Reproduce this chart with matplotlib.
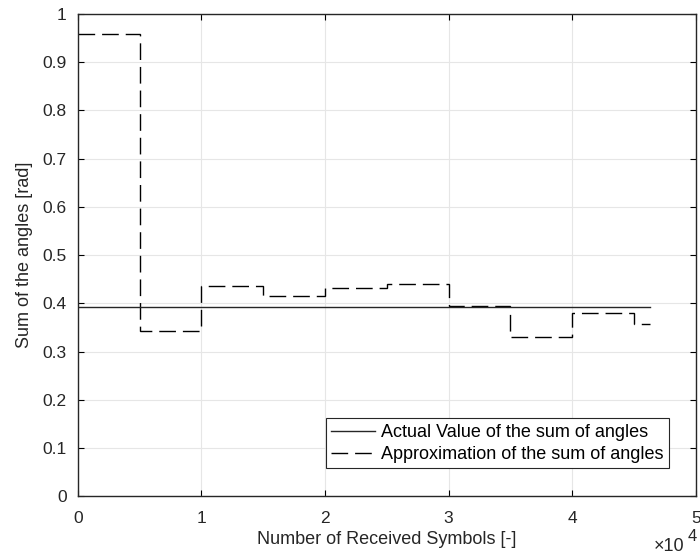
import numpy as np
import matplotlib
matplotlib.use('Agg')
import matplotlib.pyplot as plt
from matplotlib import rc

rc('font', **{'family': 'sans-serif', 'sans-serif': ['Liberation Sans', 'DejaVu Sans']})

# step edges (received symbols) and the estimated sum of angles per block
edges = [0, 5000, 10000, 15000, 20000, 25000, 30000, 35000, 40000, 45000, 46300]
approx = [0.958, 0.343, 0.436, 0.415, 0.431, 0.440, 0.394, 0.331, 0.380, 0.358]
actual_x = [0, 46300]
actual_y = [np.pi / 8, np.pi / 8]

fig = plt.figure(figsize=(7, 5.6), dpi=100)
ax = fig.add_axes([0.111, 0.114, 0.883, 0.861])

ax.plot(actual_x, actual_y, color='#262626', lw=1.0, label='Actual Value of the sum of angles')
ax.stairs(approx, edges, baseline=None, color='black', lw=1.0,
          linestyle=(0, (12, 5)), label='Approximation of the sum of angles')

ax.set_xlim(0, 50000)
ax.set_ylim(0, 1)
ax.set_xticks(np.arange(0, 50001, 10000))
ax.set_xticklabels(['0', '1', '2', '3', '4', '5'])
ax.set_yticks(np.arange(0, 1.01, 0.1))
ax.set_yticklabels(['0', '0.1', '0.2', '0.3', '0.4', '0.5', '0.6', '0.7', '0.8', '0.9', '1'])

ax.grid(True, color='#e6e6e6', lw=0.8)
ax.set_axisbelow(True)
ax.tick_params(direction='in', top=True, right=True, labelsize=12.5, length=4, width=0.8,
               labelcolor='#262626')
ax.tick_params(axis='x', pad=11)
ax.tick_params(axis='y', pad=8)
for s in ax.spines.values():
    s.set_linewidth(1.0)
    s.set_color('#262626')

ax.set_xlabel('Number of Received Symbols [-]', fontsize=13, color='#262626', labelpad=3)
ax.set_ylabel('Sum of the angles [rad]', fontsize=13, color='#262626', labelpad=7)
fig.text(0.934, 0.016, '\u00d710', fontsize=13, color='#262626')
fig.text(0.982, 0.034, '4', fontsize=12, color='#262626')

leg = ax.legend(loc='lower right', fontsize=13, fancybox=False, framealpha=1,
                edgecolor='#262626', handlelength=2.4, handletextpad=0.35, borderpad=0.3,
                labelspacing=0.28, bbox_to_anchor=(0.971, 0.039))
leg.get_frame().set_linewidth(0.8)

fig.savefig('out.png', dpi=100)
